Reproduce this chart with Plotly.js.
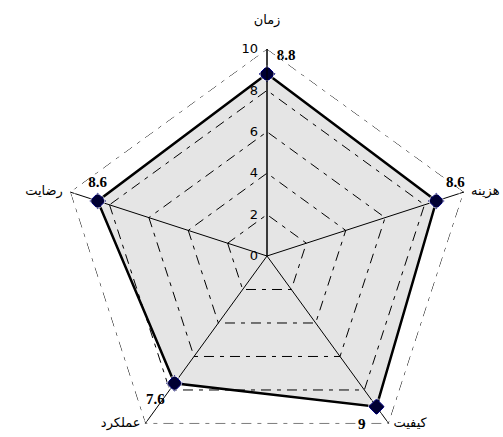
<!DOCTYPE html>
<html>
<head>
<meta charset="utf-8">
<script src="https://cdn.plot.ly/plotly-3.0.1.min.js"></script>
<style>
  html, body { margin: 0; padding: 0; background: #fff; overflow: hidden; }
  #chart { width: 503px; height: 466px; }
</style>
</head>
<body>
<div id="chart"></div>
<script>
// Project assessment criteria and their scores (0–10)
const criteria = ['زمان', 'هزینه', 'کیفیت', 'عملکرد', 'رضایت'];
const scores = [8.8, 8.6, 9, 7.6, 8.6];
const radialTicks = [0, 2, 4, 6, 8, 10];
const scaleMax = 10;

// close the polygon by repeating the first point
const thetaClosed = criteria.concat([criteria[0]]);
const rClosed = scores.concat([scores[0]]);

const gridDash = '10px,6px,4px,6px';

const traces = [
  // outer ring of the scale, dashed like the inner rings
  {
    type: 'scatterpolar',
    r: thetaClosed.map(() => scaleMax),
    theta: thetaClosed,
    mode: 'lines',
    line: { color: '#000', width: 1, dash: gridDash },
    hoverinfo: 'skip'
  },
  // score polygon
  {
    type: 'scatterpolar',
    r: rClosed,
    theta: thetaClosed,
    mode: 'lines+markers',
    fill: 'toself',
    fillcolor: 'rgba(0,0,0,0.1)',
    line: { color: '#000', width: 2.5 },
    marker: { symbol: 'diamond', size: 12, color: '#000033', line: { color: '#000080', width: 1 } },
    hoverinfo: 'skip'
  },
  // score values beside each vertex
  {
    type: 'scatterpolar',
    r: scores,
    theta: criteria,
    mode: 'markers+text',
    marker: { size: [14, 14, 16, 14, 14], color: 'rgba(0,0,0,0)' },
    text: scores.map(String),
    textposition: ['top right', 'top right', 'bottom left', 'bottom left', 'top center'],
    textfont: { family: 'Liberation Serif, serif', size: 15, color: '#000', weight: 'bold' },
    hoverinfo: 'skip'
  },
  // criterion names just outside the outer ring
  {
    type: 'scatterpolar',
    r: criteria.map(() => scaleMax),
    theta: criteria,
    mode: 'markers+text',
    marker: { size: [34, 10, 6, 6, 10], color: 'rgba(0,0,0,0)' },
    text: criteria,
    textposition: ['top center', 'middle right', 'middle right', 'middle left', 'middle left'],
    textfont: { family: 'DejaVu Sans, sans-serif', size: 13, color: '#000' },
    hoverinfo: 'skip'
  }
];

const layout = {
  width: 503,
  height: 466,
  margin: { l: 60, r: 29, t: 49, b: 3 },
  paper_bgcolor: '#fff',
  showlegend: false,
  font: { family: 'DejaVu Sans, sans-serif', size: 12, color: '#000' },
  polar: {
    bgcolor: 'rgba(0,0,0,0)',
    gridshape: 'linear',
    radialaxis: {
      range: [0, scaleMax],
      angle: 90,
      side: 'counterclockwise',
      tickangle: 90,
      tickvals: radialTicks,
      ticktext: radialTicks.map(String),
      showline: true,
      linecolor: '#000',
      linewidth: 1,
      ticks: 'outside',
      ticklen: 4,
      tickcolor: 'rgba(0,0,0,0)',
      gridcolor: '#000',
      griddash: gridDash,
      gridwidth: 1,
      tickfont: { size: 13, color: '#000' }
    },
    angularaxis: {
      type: 'category',
      categoryarray: criteria,
      rotation: 90,
      direction: 'clockwise',
      showline: false,
      showticklabels: false,
      gridcolor: '#000',
      gridwidth: 1,
      ticks: ''
    }
  }
};

Plotly.newPlot('chart', traces, layout, { staticPlot: true, displayModeBar: false });
</script>
</body>
</html>
